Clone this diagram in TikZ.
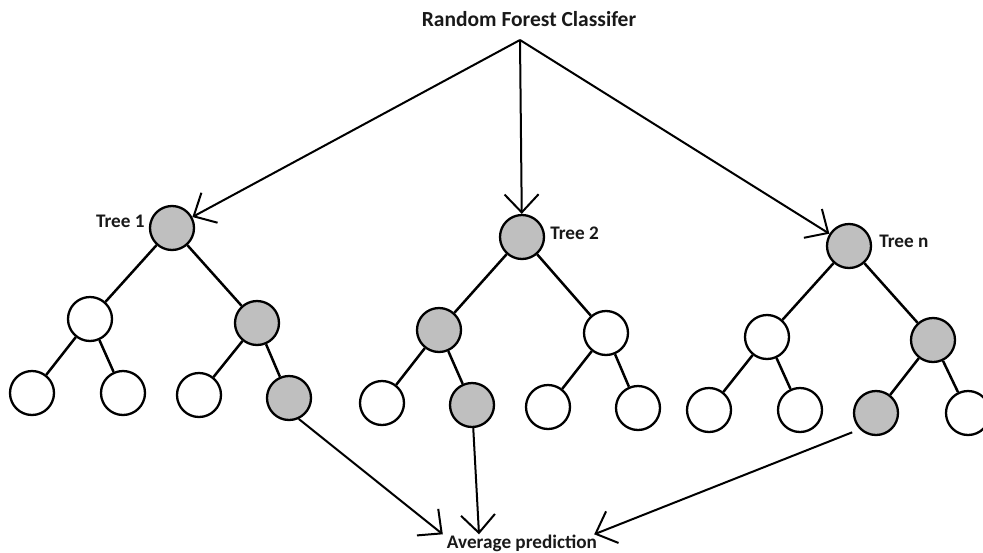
\documentclass[tikz,border=0pt]{standalone}
\usepackage{fontspec}
\setmainfont{Carlito}
\usepackage{tikz}
\usetikzlibrary{arrows.meta,calc}
\newcommand{\lblfont}{\bfseries\fontsize{19.2}{21}\selectfont}
\newcommand{\ttlfont}{\bfseries\fontsize{21.5}{23}\selectfont}

\begin{document}
\begin{tikzpicture}[x=1pt,y=-1pt,
    vert/.style={circle,draw,line width=2.3pt,minimum size=44pt,inner sep=0pt,fill=white},
    hit/.style={vert,fill=gray!50},
    branch/.style={line width=2.5pt},
    vote/.style={line width=2pt,-{Straight Barb[length=18pt,width=34pt]}},
    lbl/.style={font=\lblfont,text=black!90,inner sep=0pt}]
    \useasboundingbox (0,0) rectangle (983,552);

    % Title
    \node[lbl,font=\ttlfont,anchor=base] (ttl) at (529,26) {Random Forest Classifer};
    \coordinate (apex) at (520,40);

    % Tree 1
    \node[hit]  (t1)   at (172,228) {};
    \node[vert] (t1a)  at (90,319) {};
    \node[hit]  (t1b)  at (257,323) {};
    \node[vert] (t1aa) at (32,393) {};
    \node[vert] (t1ab) at (123,393) {};
    \node[vert] (t1ba) at (199,395) {};
    \node[hit]  (t1bb) at (289,398) {};

    % Tree 2
    \node[hit]  (t2)   at (522,237) {};
    \node[hit]  (t2a)  at (439,330) {};
    \node[vert] (t2b)  at (606,333) {};
    \node[vert] (t2aa) at (382,403) {};
    \node[hit]  (t2ab) at (472,405) {};
    \node[vert] (t2ba) at (548,407) {};
    \node[vert] (t2bb) at (638,408) {};

    % Tree n
    \node[hit]  (tn)   at (849,246) {};
    \node[vert] (tna)  at (767,337) {};
    \node[hit]  (tnb)  at (933,340) {};
    \node[vert] (tnaa) at (709,410) {};
    \node[vert] (tnab) at (800,410) {};
    \node[hit]  (tnba) at (876,413) {};
    \node[vert] (tnbb) at (968,413) {};

    % Branches
    \foreach \tr in {t1,t2,tn} {
        \draw[branch] (\tr) -- (\tr a);
        \draw[branch] (\tr) -- (\tr b);
        \draw[branch] (\tr a) -- (\tr aa);
        \draw[branch] (\tr a) -- (\tr ab);
        \draw[branch] (\tr b) -- (\tr ba);
        \draw[branch] (\tr b) -- (\tr bb);
    }

    % Tree labels
    \node[lbl,anchor=east] (lab1) at ([shift={(-4,-6.5)}]t1.west) {Tree 1};
    \node[lbl,anchor=west] (lab2) at ([shift={(5,-3.5)}]t2.east) {Tree 2};
    \node[lbl,anchor=west] (labn) at ([shift={(7,-5)}]tn.east) {Tree n};

    % Classifier to trees
    \draw[vote] (apex) -- (t1);
    \draw[vote] (apex) -- (t2);
    \draw[vote] (apex) -- (tn);

    % Votes
    \node[lbl,anchor=base] (avg) at (522,548) {Average prediction};
    \draw[vote] (t1bb.-65) -- ([xshift=-4pt]avg.north west);
    \draw[vote] (t2ab) -- ([xshift=-43pt]avg.north);
    \draw[vote,shorten <=8pt] (tnba.south west) -- ([xshift=-3pt]avg.north east);

\end{tikzpicture}
\end{document}
